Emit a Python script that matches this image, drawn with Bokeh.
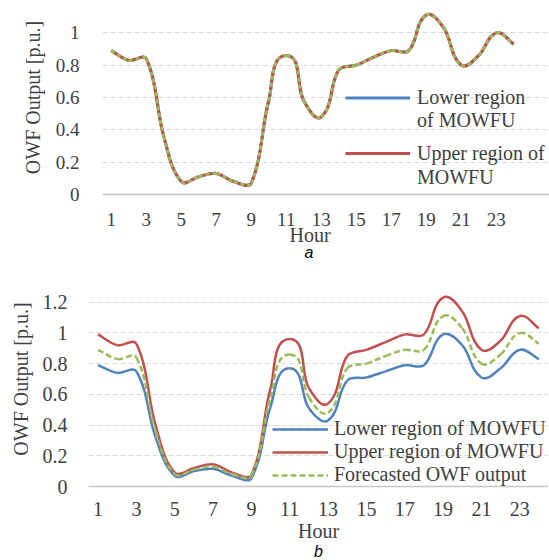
import numpy as np
from bokeh.plotting import figure
from bokeh.models import (ColumnDataSource, FixedTicker, NumeralTickFormatter,
                          Legend, LegendItem, Title, Range1d)
from bokeh.embed import file_html
from bokeh.resources import INLINE

# ---------------- data ----------------
hours = list(range(1, 25))
hour_ticks = [1, 3, 5, 7, 9, 11, 13, 15, 17, 19, 21, 23]

forecast = [0.89, 0.83, 0.84, 0.36, 0.08, 0.11, 0.13, 0.08, 0.07, 0.58, 0.86, 0.58,
            0.48, 0.77, 0.80, 0.85, 0.89, 0.89, 1.11, 1.03, 0.80, 0.86, 1.00, 0.93]
# panel a: deterministic case, bounds coincide with forecast
lower_a = [0.89, 0.83, 0.84, 0.36, 0.08, 0.11, 0.13, 0.08, 0.07, 0.58, 0.86, 0.58,
           0.48, 0.77, 0.80, 0.85, 0.89, 0.89, 1.11, 1.03, 0.80, 0.86, 1.00, 0.93]
upper_a = [0.89, 0.83, 0.84, 0.36, 0.08, 0.11, 0.13, 0.08, 0.07, 0.58, 0.86, 0.58,
           0.48, 0.77, 0.80, 0.85, 0.89, 0.89, 1.11, 1.03, 0.80, 0.86, 1.00, 0.93]
# panel b
lower_b = [0.79, 0.74, 0.75, 0.32, 0.07, 0.10, 0.115, 0.07, 0.055, 0.52, 0.77, 0.51,
           0.43, 0.69, 0.71, 0.75, 0.79, 0.79, 0.99, 0.92, 0.71, 0.77, 0.89, 0.83]
upper_b = [0.99, 0.92, 0.93, 0.40, 0.09, 0.12, 0.145, 0.09, 0.075, 0.64, 0.96, 0.64,
           0.54, 0.85, 0.89, 0.94, 0.99, 0.99, 1.23, 1.14, 0.89, 0.95, 1.11, 1.03]

yticks_a = [0, 0.2, 0.4, 0.6, 0.8, 1]
yticks_b = [0, 0.2, 0.4, 0.6, 0.8, 1, 1.2]

BLUE = "#4F81BD"
RED = "#C0504D"
GREEN = "#9BBB59"
TXT = "#404040"
SERIF = "Liberation Serif"


def smooth_source(x, y, sx, sy, k=1.0 / 3.0):
    """Bezier segments for a smoothed line; tangents are taken in screen
    space (sx, sy = pixels per data unit) and scaled by segment length."""
    n = len(x)
    px = [v * sx for v in x]
    py = [v * sy for v in y]
    tx, ty = [], []
    for i in range(n):
        a = max(i - 1, 0)
        b = min(i + 1, n - 1)
        dx, dy = px[b] - px[a], py[b] - py[a]
        L = (dx * dx + dy * dy) ** 0.5 or 1.0
        tx.append(dx / L)
        ty.append(dy / L)
    d = dict(x0=[], y0=[], x1=[], y1=[], cx0=[], cy0=[], cx1=[], cy1=[])
    for i in range(n - 1):
        seg = ((px[i + 1] - px[i]) ** 2 + (py[i + 1] - py[i]) ** 2) ** 0.5
        d["x0"].append(x[i]); d["y0"].append(y[i])
        d["x1"].append(x[i + 1]); d["y1"].append(y[i + 1])
        d["cx0"].append((px[i] + tx[i] * seg * k) / sx)
        d["cy0"].append((py[i] + ty[i] * seg * k) / sy)
        d["cx1"].append((px[i + 1] - tx[i + 1] * seg * k) / sx)
        d["cy1"].append((py[i + 1] - ty[i + 1] * seg * k) / sy)
    return ColumnDataSource(d)


def smooth(p, x, y, sx, sy, **kw):
    return p.bezier(x0="x0", y0="y0", x1="x1", y1="y1", cx0="cx0", cy0="cy0",
                    cx1="cx1", cy1="cy1", source=smooth_source(x, y, sx, sy), **kw)


def style(p, yticks, fs):
    p.outline_line_color = None
    p.xgrid.grid_line_color = None
    p.ygrid.grid_line_color = "#d9d9d9"
    p.ygrid.grid_line_dash = "5 3"
    p.ygrid.grid_line_width = 1
    p.xaxis.ticker = FixedTicker(ticks=hour_ticks)
    p.yaxis.ticker = FixedTicker(ticks=yticks)
    p.yaxis.formatter = NumeralTickFormatter(format="0.[0]")
    for ax in (p.xaxis[0], p.yaxis[0]):
        ax.major_tick_line_color = None
        ax.minor_tick_line_color = None
        ax.major_label_text_font = SERIF
        ax.major_label_text_font_size = fs
        ax.major_label_text_color = TXT
        ax.axis_label_text_font = SERIF
        ax.axis_label_text_font_size = "20px"
        ax.axis_label_text_font_style = "normal"
        ax.axis_label_text_color = TXT
    p.yaxis.axis_line_color = None
    p.xaxis.axis_line_color = "#c8c8c8"
    p.xaxis.axis_line_width = 1.5
    p.yaxis.axis_label = "OWF Output [p.u.]"


def legend_box(items, loc, gw, fs, lh, standoff=7):
    return Legend(items=items, location=loc, padding=0, margin=0, spacing=0,
                  glyph_width=gw, glyph_height=lh, label_height=lh,
                  label_standoff=standoff, label_text_font=SERIF,
                  label_text_font_size=fs, label_text_color=TXT,
                  border_line_color=None, background_fill_alpha=0)


# ---------------- panel a ----------------
FWA, FHA = 447, 194
XA = (0.5, 0.5 + 447 / 17.5)
YA = (0, 1.2)
pa = figure(frame_width=FWA, frame_height=FHA, output_backend="svg",
            toolbar_location=None, x_range=Range1d(*XA), y_range=Range1d(*YA),
            min_border_left=102, min_border_top=0, min_border_right=0,
            min_border_bottom=77)
style(pa, yticks_a, "19px")
pa.yaxis.major_label_standoff = 17
pa.yaxis.axis_label_standoff = 9
pa.xaxis.major_label_standoff = 12
sxa, sya = FWA / (XA[1] - XA[0]), FHA / (YA[1] - YA[0])

ra_low = smooth(pa, hours, lower_a, sxa, sya, line_color=BLUE, line_width=3)
ra_up = smooth(pa, hours, upper_a, sxa, sya, line_color=RED, line_width=3)
smooth(pa, hours, forecast, sxa, sya, line_color=GREEN, line_width=3, line_dash="4 3")
blank_a = pa.line(x=[], y=[], line_alpha=0)

leg_a1 = legend_box([LegendItem(label="Lower region", renderers=[ra_low]),
                     LegendItem(label="of MOWFU", renderers=[blank_a])],
                    (243, 62), 65, "20px", 23)
leg_a2 = legend_box([LegendItem(label="Upper region of", renderers=[ra_up]),
                     LegendItem(label="MOWFU", renderers=[blank_a])],
                    (243, 5), 65, "20px", 24)
pa.add_layout(leg_a1)
pa.add_layout(leg_a2)
pa.add_layout(Title(text="Hour", align="left", offset=187, text_font=SERIF,
                    text_font_style="normal", text_font_size="20px",
                    text_color=TXT, standoff=-14), "below")
pa.add_layout(Title(text="a", align="left", offset=202, text_font="Liberation Sans",
                    text_font_style="italic", text_font_size="16px",
                    text_color="#000000", standoff=6), "below")

# ---------------- panel b ----------------
FWB, FHB = 460, 215
XB = (0.5, 24.5)
YB = (0, 1.4)
pb = figure(frame_width=FWB, frame_height=FHB, output_backend="svg",
            toolbar_location=None, x_range=Range1d(*XB), y_range=Range1d(*YB),
            min_border_left=88, min_border_top=0, min_border_right=0,
            min_border_bottom=73)
style(pb, yticks_b, "20px")
pb.xaxis.axis_label = "Hour"
pb.yaxis.major_label_standoff = 15
pb.yaxis.axis_label_standoff = 8
pb.xaxis.major_label_standoff = 9
pb.xaxis.axis_label_standoff = 1
sxb, syb = FWB / (XB[1] - XB[0]), FHB / (YB[1] - YB[0])

rb_low = smooth(pb, hours, lower_b, sxb, syb, line_color=BLUE, line_width=2.5)
rb_up = smooth(pb, hours, upper_b, sxb, syb, line_color=RED, line_width=2.5)
rb_fc = smooth(pb, hours, forecast, sxb, syb, line_color=GREEN, line_width=2.5,
               line_dash="6 3")

leg_b = legend_box([LegendItem(label="Lower region of MOWFU", renderers=[rb_low]),
                    LegendItem(label="Upper region of MOWFU", renderers=[rb_up]),
                    LegendItem(label="Forecasted OWF output", renderers=[rb_fc])],
                   (184, 0), 56, "20px", 22, standoff=6)
pb.add_layout(leg_b)
pb.add_layout(Title(text="b", align="center", text_font="Liberation Sans",
                    text_font_style="italic", text_font_size="16px",
                    text_color="#000000", standoff=-8), "below")

open("out.html", "w").write(file_html([pa, pb], INLINE))
